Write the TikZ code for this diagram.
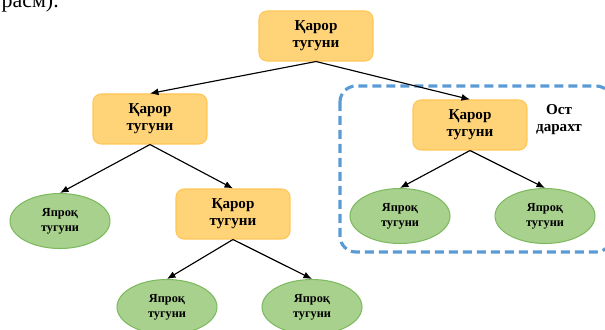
\documentclass[tikz,border=0pt]{standalone}
\usepackage{fontspec}
\setmainfont{Liberation Serif}
\usetikzlibrary{shapes.geometric,arrows.meta}

\definecolor{qarorfill}{RGB}{255,212,120}
\definecolor{qarorline}{RGB}{255,198,85}
\definecolor{yaproqfill}{RGB}{169,209,142}
\definecolor{yaproqline}{RGB}{125,186,95}
\definecolor{ostblue}{RGB}{91,155,213}

\begin{document}
\begin{tikzpicture}[x=0.02cm,y=-0.02cm,->,>={Latex[length=0.17cm,width=0.14cm]},line width=0.65pt,
		decision node/.style={rectangle,rounded corners=0.16cm,draw=qarorline,fill=qarorfill,line width=0.6pt,
			minimum width=2.28cm,minimum height=1cm,align=center,font=\fontsize{8.6}{9.8}\selectfont\bfseries},
		leaf node/.style={ellipse,draw=yaproqline,fill=yaproqfill,line width=0.6pt,
			minimum width=2cm,minimum height=1.1cm,inner sep=0pt,align=center,font=\fontsize{7}{8.6}\selectfont\bfseries}]
		\useasboundingbox (0,0) rectangle (605,330);
		% матн қисми
		\node[anchor=base west,inner sep=0pt,font=\fontsize{12.5}{14}\selectfont] (matn) at (1,8) {расм).};
		
		% ост дарахт
		\draw[-,ostblue,line width=1.8pt,dash pattern=on 0.18cm off 0.1cm,rounded corners=0.32cm]
			(340,86) rectangle (612,252);
		\node[anchor=center,inner sep=0pt,align=center,font=\fontsize{8.6}{9.6}\selectfont\bfseries] (ost) at (559,120) {Ост\\дарахт};
		
		% қарор тугунлари
		\node[decision node] (q1) at (316,36) {Қарор\\тугуни};
		\node[decision node] (q2) at (150,119) {Қарор\\тугуни};
		\node[decision node] (q3) at (233,214) {Қарор\\тугуни};
		\node[decision node] (q4) at (470,125) {Қарор\\тугуни};
		
		% япроқ тугунлари
		\node[leaf node] (y1) at (60,221) {Япроқ\\тугуни};
		\node[leaf node] (y2) at (167,307) {Япроқ\\тугуни};
		\node[leaf node] (y3) at (312,307) {Япроқ\\тугуни};
		\node[leaf node] (y4) at (400,216) {Япроқ\\тугуни};
		\node[leaf node] (y5) at (545,216) {Япроқ\\тугуни};
		
		\path[->]
		(q1.south) edge (q2.north)
		(q1.south) edge (q4.north)
		(q2.south) edge (y1.north)
		(q2.south) edge (q3.north)
		(q3.south) edge (y2.north)
		(q3.south) edge (y3.north)
		(q4.south) edge (y4.north)
		(q4.south) edge (y5.north);
\end{tikzpicture}
\end{document}
